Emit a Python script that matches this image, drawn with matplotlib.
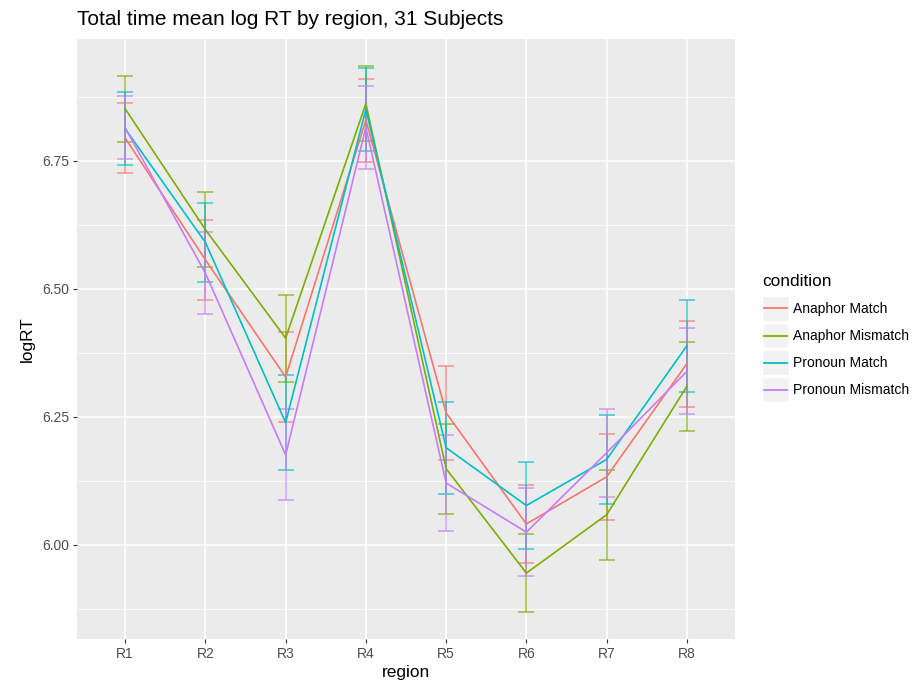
import matplotlib
matplotlib.use('Agg')
import matplotlib.pyplot as plt
from matplotlib.patches import Rectangle
from matplotlib.lines import Line2D
import numpy as np

plt.rcParams['font.family'] = ['Liberation Sans', 'DejaVu Sans']

regions = ['R1', 'R2', 'R3', 'R4', 'R5', 'R6', 'R7', 'R8']
conditions = ['Anaphor Match', 'Anaphor Mismatch', 'Pronoun Match', 'Pronoun Mismatch']
colors = ['#F8766D', '#7CAE00', '#00BFC4', '#C77CFF']

# mean log RT per region, per condition
anaphor_match = [6.795, 6.557, 6.328, 6.830, 6.258, 6.041, 6.133, 6.354]
anaphor_mismatch = [6.852, 6.616, 6.404, 6.862, 6.149, 5.945, 6.059, 6.310]
pronoun_match = [6.813, 6.591, 6.239, 6.851, 6.190, 6.077, 6.167, 6.389]
pronoun_mismatch = [6.815, 6.531, 6.176, 6.816, 6.121, 6.025, 6.180, 6.339]

# half width of the error bars
anaphor_match_se = [0.068, 0.078, 0.088, 0.081, 0.092, 0.076, 0.084, 0.084]
anaphor_mismatch_se = [0.064, 0.073, 0.085, 0.073, 0.088, 0.076, 0.088, 0.087]
pronoun_match_se = [0.071, 0.077, 0.092, 0.081, 0.090, 0.085, 0.087, 0.090]
pronoun_mismatch_se = [0.062, 0.080, 0.089, 0.081, 0.094, 0.086, 0.086, 0.084]

means = [anaphor_match, anaphor_mismatch, pronoun_match, pronoun_mismatch]
ses = [anaphor_match_se, anaphor_mismatch_se, pronoun_match_se, pronoun_mismatch_se]


class KeyHandler:
    # ggplot-like legend key: grey box with a line through the middle
    def legend_artist(self, legend, orig_handle, fontsize, handlebox):
        x0, y0 = -handlebox.xdescent, -handlebox.ydescent
        w, h = handlebox.width, handlebox.height
        rect = Rectangle((x0, y0), w, h, facecolor='#F2F2F2', edgecolor='white',
                         lw=1, transform=handlebox.get_transform())
        line = Line2D([x0 + 0.07 * w, x0 + 0.93 * w], [y0 + h / 2, y0 + h / 2],
                      color=orig_handle.get_color(), lw=1.3,
                      transform=handlebox.get_transform())
        handlebox.add_artist(rect)
        handlebox.add_artist(line)
        return line


fig = plt.figure(figsize=(9.15, 6.86), dpi=100)
ax = fig.add_axes([77 / 915, (686 - 639.3) / 686, (735 - 77) / 915, (639.3 - 39) / 686])
ax.set_facecolor('#EBEBEB')

x = np.arange(1, len(regions) + 1)

for m, s, c in zip(means, ses, colors):
    m = np.array(m)
    s = np.array(s)
    ax.errorbar(x, m, yerr=s, fmt='none', ecolor=c, alpha=0.7,
                elinewidth=1.2, capsize=0, zorder=2)
    for xi, lo, hi in zip(x, m - s, m + s):
        ax.hlines([lo, hi], xi - 0.1, xi + 0.1, colors=c, alpha=0.7, lw=1.2, zorder=2)

lines = []
for m, c, lab in zip(means, colors, conditions):
    ln, = ax.plot(x, m, color=c, lw=1.2, label=lab, zorder=3)
    lines.append(ln)

lo_all = min(min(np.array(m) - np.array(s)) for m, s in zip(means, ses))
hi_all = max(max(np.array(m) + np.array(s)) for m, s in zip(means, ses))
pad = (hi_all - lo_all) * 0.05
ax.set_ylim(lo_all - pad, hi_all + pad)
ax.set_xlim(0.4, len(regions) + 0.6)

ax.set_xticks(x)
ax.set_xticklabels(regions)
ax.set_yticks([6.0, 6.25, 6.5, 6.75])
ax.set_yticklabels(['6.00', '6.25', '6.50', '6.75'])
ax.set_yticks([5.875, 6.125, 6.375, 6.625, 6.875], minor=True)

ax.grid(True, which='major', color='white', lw=1.1)
ax.grid(True, which='minor', axis='y', color='white', lw=0.55)
ax.set_axisbelow(True)
for sp in ax.spines.values():
    sp.set_visible(False)
ax.tick_params(axis='both', which='major', length=3.1, width=0.8, color='#333333',
               labelcolor='#4D4D4D', labelsize=10, pad=2.5)
ax.tick_params(axis='both', which='minor', length=0)

ax.set_xlabel('region', fontsize=12.4, color='black', labelpad=3)
ax.set_ylabel('logRT', fontsize=12.4, color='black', labelpad=5)
ax.set_title('Total time mean log RT by region, 31 Subjects', loc='left',
             fontsize=15, color='black', pad=10)

leg = fig.legend(lines, conditions, handler_map={Line2D: KeyHandler()},
                 loc='upper left', bbox_to_anchor=(762 / 915, 1 - 274 / 686),
                 frameon=False, fontsize=10, title='condition', title_fontsize=12.4,
                 handlelength=1.95, handleheight=2.4, handletextpad=0.3,
                 labelspacing=0.15, borderpad=0, borderaxespad=0)
leg._legend_box.align = 'left'
leg._legend_box.sep = 5.0  # a bit more room under the legend title

fig.savefig('out.png', dpi=100)
